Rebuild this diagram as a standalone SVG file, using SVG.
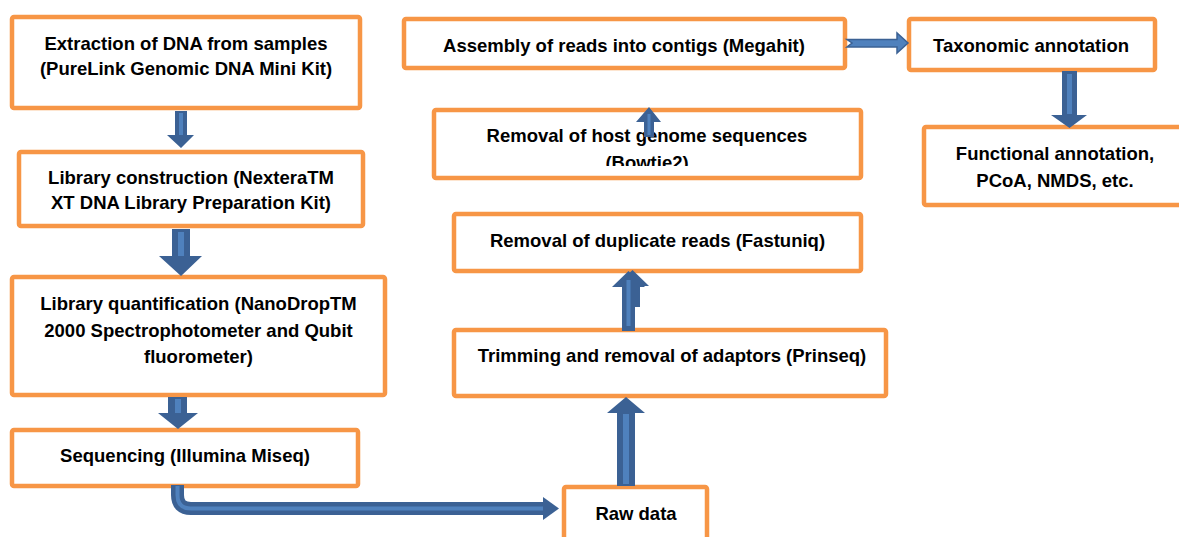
<svg xmlns="http://www.w3.org/2000/svg" width="1179" height="537" viewBox="0 0 1179 537">
<style>
.box{fill:#fff;stroke:#F79646;stroke-width:4.5;stroke-linejoin:round}
.t{font-family:"Liberation Sans",Arial,sans-serif;font-weight:bold;font-size:18.5px;fill:#000;text-anchor:middle}
.ad{fill:#3B6194}
.al{fill:#4F81BD}
.ah{fill:#4F81BD;stroke:#3B6194;stroke-width:1.5}
</style>
<defs>
<clipPath id="hostclip"><rect x="430" y="100" width="440" height="66"/></clipPath>
</defs>
<rect width="1179" height="537" fill="#fff"/>
<g id="n-extraction">
<rect class="box" x="12" y="17" width="348" height="91" rx="2"/>
<text class="t" x="186" y="49.5">Extraction of DNA from samples</text>
<text class="t" x="186" y="74.5">(PureLink Genomic DNA Mini Kit)</text>
</g>
<g id="n-library">
<rect class="box" x="19" y="152" width="344" height="74" rx="2"/>
<text class="t" x="191" y="183.5">Library construction (NexteraTM</text>
<text class="t" x="191" y="208.5">XT DNA Library Preparation Kit)</text>
</g>
<g id="n-quant">
<rect class="box" x="12" y="277" width="373" height="118" rx="2"/>
<text class="t" x="198.5" y="310">Library quantification (NanoDropTM</text>
<text class="t" x="198.5" y="336.5">2000 Spectrophotometer and Qubit</text>
<text class="t" x="198.5" y="363">fluorometer)</text>
</g>
<g id="n-seq">
<rect class="box" x="12" y="430" width="346" height="56" rx="2"/>
<text class="t" x="185" y="461.5">Sequencing (Illumina Miseq)</text>
</g>
<g id="n-raw">
<rect class="box" x="564" y="487" width="143" height="62" rx="2"/>
<text class="t" x="636" y="520">Raw data</text>
</g>
<g id="n-trim">
<rect class="box" x="454" y="330" width="432" height="66" rx="2"/>
<text class="t" x="672" y="361.5">Trimming and removal of adaptors (Prinseq)</text>
</g>
<g id="n-dup">
<rect class="box" x="454" y="214" width="407" height="57" rx="2"/>
<text class="t" x="657.5" y="246.5">Removal of duplicate reads (Fastuniq)</text>
</g>
<g id="n-host">
<rect class="box" x="434" y="110" width="427" height="68" rx="2"/>
<text class="t" x="647" y="141.5">Removal of host genome sequences</text>
<text class="t" x="647" y="168.5" clip-path="url(#hostclip)">(Bowtie2)</text>
</g>
<g id="n-assembly">
<rect class="box" x="404" y="19" width="441" height="49" rx="2"/>
<text class="t" x="624" y="51.5">Assembly of reads into contigs (Megahit)</text>
</g>
<g id="n-tax">
<rect class="box" x="909" y="19" width="246" height="51" rx="2"/>
<text class="t" x="1031" y="51.5">Taxonomic annotation</text>
</g>
<g id="n-func">
<rect class="box" x="924" y="127" width="262" height="78" rx="2"/>
<text class="t" x="1055" y="159.5">Functional annotation,</text>
<text class="t" x="1055" y="186.5">PCoA, NMDS, etc.</text>
</g>
<g id="connectors">
<polygon class="ad" points="175,111 187,111 187,135 194,135 181,148 167,135 175,135"/>
<rect class="al" x="179" y="113" width="4" height="22"/>
<polygon class="ad" points="172,229 190,229 190,256 202,256 181,276 159,256 172,256"/>
<rect class="al" x="178" y="232" width="6" height="24"/>
<polygon class="ad" points="168,397 187,397 187,413 198,413 178,429 158,413 168,413"/>
<rect class="al" x="175" y="399" width="6" height="14"/>
<path d="M177.5,485 V495 Q177.5,508.5 191,508.5 H545" fill="none" stroke="#3B6194" stroke-width="13"/>
<path d="M177.5,486 V495 Q177.5,508.5 191,508.5 H548" fill="none" stroke="#4F81BD" stroke-width="4"/>
<polygon class="ad" points="543,497 559,508.5 543,520"/>
<polygon class="ad" points="617,486 635,486 635,413 645,413 626,397 607,413 617,413"/>
<rect class="al" x="623" y="414" width="6" height="70"/>
<polygon class="ad" points="627,307 640,307 640,286 649,286 632.5,270 616,286 627,286"/>
<polygon class="ad" points="622,331 635,331 635,287 645,287 628.5,271 612,287 622,287"/>
<rect class="al" x="626.5" y="280" width="4" height="46"/>
<polygon class="ad" points="644,137 654,137 654,122 661,122 649,107 636,122 644,122"/>
<rect class="al" x="647.5" y="114" width="3" height="21"/>
<polygon class="ah" points="847,39.5 897,39.5 897,33 908,43 897,53 897,47 847,47 852,43"/>
<polygon class="ad" points="1062,71 1077,71 1077,115 1087,115 1069.5,128 1051,115 1062,115"/>
<rect class="al" x="1067" y="74" width="5" height="40"/>
</g>
</svg>
